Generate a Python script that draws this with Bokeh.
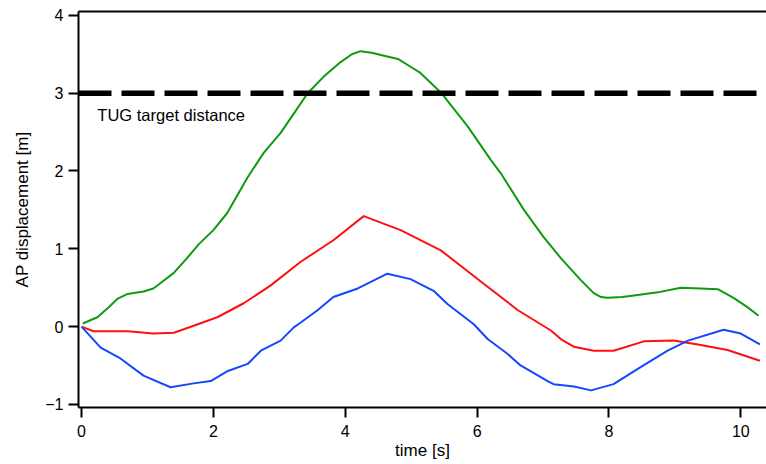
from bokeh.plotting import figure
from bokeh.models import Range1d, LinearAxis, Span, FixedTicker, ColumnDataSource
from bokeh.core.properties import value
from bokeh.embed import file_html
from bokeh.resources import INLINE

# ---- data ----
green_t = [0.02, 0.24, 0.40, 0.55, 0.70, 0.94, 1.09, 1.20, 1.40, 1.58, 1.78, 2.00, 2.21,
           2.52, 2.76, 3.02, 3.23, 3.43, 3.67, 3.93, 4.10, 4.23, 4.40, 4.54, 4.80, 4.99,
           5.14, 5.45, 5.86, 6.21, 6.36, 6.71, 7.01, 7.27, 7.57, 7.77, 7.88, 7.98, 8.20,
           8.38, 8.74, 9.09, 9.39, 9.65, 9.89, 10.10, 10.27]
green_y = [0.04, 0.12, 0.24, 0.36, 0.42, 0.45, 0.49, 0.56, 0.69, 0.86, 1.06, 1.24, 1.46,
           1.92, 2.23, 2.49, 2.75, 3.00, 3.21, 3.40, 3.50, 3.54, 3.52, 3.49, 3.44, 3.34,
           3.26, 3.01, 2.57, 2.14, 1.97, 1.50, 1.15, 0.88, 0.60, 0.43, 0.38, 0.37, 0.38,
           0.40, 0.44, 0.50, 0.49, 0.48, 0.37, 0.25, 0.14]

red_t = [0.0, 0.18, 0.70, 1.09, 1.40, 1.70, 2.06, 2.46, 2.87, 3.32, 3.82, 4.28, 4.84,
         5.45, 6.10, 6.62, 7.12, 7.27, 7.47, 7.77, 8.07, 8.53, 8.98, 9.35, 9.80, 10.29]
red_y = [0.0, -0.06, -0.06, -0.09, -0.08, 0.01, 0.12, 0.30, 0.53, 0.83, 1.11, 1.42, 1.24,
         0.98, 0.55, 0.21, -0.05, -0.16, -0.26, -0.31, -0.31, -0.19, -0.18, -0.23, -0.30, -0.44]

blue_t = [0.0, 0.29, 0.59, 0.94, 1.35, 1.70, 1.96, 2.22, 2.52, 2.72, 3.02, 3.22, 3.32,
          3.58, 3.82, 4.19, 4.64, 4.99, 5.34, 5.55, 5.95, 6.16, 6.46, 6.66, 7.07, 7.16,
          7.47, 7.73, 8.07, 8.48, 8.89, 9.20, 9.74, 10.0, 10.29]
blue_y = [0.0, -0.27, -0.41, -0.63, -0.78, -0.73, -0.70, -0.57, -0.48, -0.31, -0.18, -0.01,
          0.05, 0.21, 0.38, 0.49, 0.68, 0.61, 0.46, 0.29, 0.03, -0.16, -0.35, -0.50, -0.70,
          -0.74, -0.77, -0.82, -0.74, -0.52, -0.31, -0.18, -0.04, -0.09, -0.23]

x_ticks = [0, 2, 4, 6, 8, 10]
y_ticks = [-1, 0, 1, 2, 3, 4]
target_distance = 3
label_text = ["TUG target distance"]
label_t = [0.24]
label_y = [2.72]

FONT = "Liberation Sans"

p = figure(width=766, height=464, output_backend="svg", toolbar_location=None,
           x_range=Range1d(-0.046, 10.39), y_range=Range1d(-1.04, 4.05),
           min_border_left=78, min_border_right=0, min_border_top=11, min_border_bottom=57,
           x_axis_label="time [s]", y_axis_label="AP displacement [m]")
p.outline_line_color = None
p.grid.visible = False

for ax, ticks in ((p.xaxis[0], x_ticks), (p.yaxis[0], y_ticks)):
    ax.ticker = FixedTicker(ticks=ticks)
    ax.axis_line_width = 2
    ax.axis_line_color = "black"
    ax.major_tick_line_width = 2
    ax.major_tick_line_color = "black"
    ax.major_tick_out = 10
    ax.major_tick_in = 0
    ax.minor_tick_line_color = None
    ax.major_label_text_font = FONT
    ax.major_label_text_font_size = "16px"
    ax.major_label_text_color = "black"
    ax.axis_label_text_font = FONT
    ax.axis_label_text_font_size = "17px"
    ax.axis_label_text_font_style = "normal"
    ax.axis_label_text_color = "black"

p.xaxis[0].major_label_standoff = 7
p.xaxis[0].axis_label_standoff = 1
p.yaxis[0].major_label_standoff = 5
p.yaxis[0].axis_label_standoff = 10

top = LinearAxis(ticker=FixedTicker(ticks=[]), axis_line_width=2, axis_line_color="black",
                 major_tick_out=0, major_tick_in=0, major_label_standoff=0,
                 axis_label_standoff=0, major_label_text_font_size="0px",
                 minor_tick_line_color=None)
p.add_layout(top, "above")

p.add_layout(Span(location=target_distance, dimension="width", line_color="black",
                  line_width=5.5, line_dash="33 10"))

p.line(green_t, green_y, line_color="#0f9a0f", line_width=2, line_join="round")
p.line(red_t, red_y, line_color="#ff1010", line_width=2, line_join="round")
p.line(blue_t, blue_y, line_color="#1447ff", line_width=2, line_join="round")

src = ColumnDataSource(dict(x=label_t, y=label_y, text=label_text))
p.text(x="x", y="y", text="text", source=src, text_font=value(FONT),
       text_font_size="16.5px", text_baseline="middle", text_align="left", text_color="black")

open("out.html", "w").write(file_html(p, INLINE))
